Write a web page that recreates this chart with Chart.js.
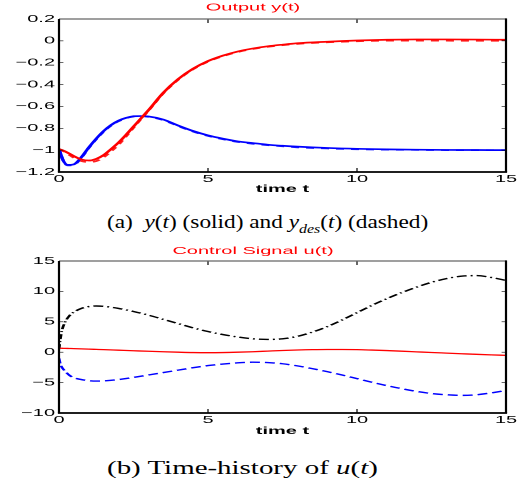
<!DOCTYPE html>
<html>
<head>
<meta charset="utf-8">
<script src="https://cdn.jsdelivr.net/npm/chart.js@4.4.1/dist/chart.umd.min.js"></script>
<style>
  html, body { margin: 0; padding: 0; background: #fff; }
  body { width: 524px; height: 481px; position: relative; overflow: hidden; }
  /* the figure in the reference is stretched sideways, so are we */
  .plot { position: absolute; left: 0; transform-origin: 0 0; transform: scaleX(2); }
  .plot canvas { display: block; }
  .cap { position: absolute; left: 107px; font-family: "Liberation Serif", "Times New Roman", serif;
         font-size: 19px; line-height: 22px; white-space: nowrap; transform-origin: 0 50%; }
  .cap sub { font-size: 13px; line-height: 0; }
</style>
</head>
<body>
<div class="plot" style="top:0px"><canvas id="outChart" width="262" height="200"></canvas></div>
<div class="cap" id="capA" style="top:211px">(a)&nbsp; <i>y</i>(<i>t</i>) (solid) and <i>y<sub>des</sub></i>(<i>t</i>) (dashed)</div>
<div class="plot" style="top:240px"><canvas id="ctrlChart" width="262" height="200"></canvas></div>
<div class="cap" id="capB" style="top:457px">(b) Time-history of <i>u</i>(<i>t</i>)</div>

<script>
/* ---------- data ---------- */
const timeTicks = [0, 5, 10, 15];
const outTicks = [0.2, 0, -0.2, -0.4, -0.6, -0.8, -1, -1.2];
const ctrlTicks = [15, 10, 5, 0, -5, -10];

// (a) output y(t)
const tOut = [0, 0.15, 0.3, 0.5, 0.75, 1, 1.25, 1.5, 1.75, 2, 2.25, 2.5, 2.75, 3, 3.5, 4, 4.5, 5,
              5.5, 6, 6.5, 7, 7.5, 8, 9, 10, 11, 12, 13, 14, 15];
const yRed = [-0.99, -1.005, -1.025, -1.055, -1.085, -1.095, -1.08, -1.045, -0.99, -0.93, -0.86, -0.785,
              -0.71, -0.635, -0.475, -0.35, -0.255, -0.185, -0.135, -0.097, -0.07, -0.05, -0.035, -0.022,
              -0.008, 0.003, 0.01, 0.013, 0.013, 0.012, 0.01];
const yRedDes = [-0.99, -1.01, -1.035, -1.07, -1.1, -1.11, -1.1, -1.065, -1.01, -0.95, -0.875, -0.795,
                 -0.715, -0.64, -0.48, -0.355, -0.26, -0.19, -0.14, -0.102, -0.075, -0.055, -0.04, -0.028,
                 -0.014, -0.004, 0.001, 0.002, 0.001, 0, 0];
const yBlue = [-0.99, -1.1, -1.135, -1.13, -1.065, -0.975, -0.895, -0.825, -0.77, -0.73, -0.705, -0.69,
               -0.688, -0.692, -0.72, -0.775, -0.825, -0.865, -0.895, -0.92, -0.935, -0.95, -0.96, -0.968,
               -0.98, -0.988, -0.993, -0.996, -0.998, -0.999, -1];
const yBlueDes = [-0.99, -1.1, -1.14, -1.135, -1.07, -0.98, -0.9, -0.83, -0.775, -0.735, -0.708, -0.693,
                  -0.69, -0.695, -0.725, -0.78, -0.83, -0.87, -0.9, -0.925, -0.942, -0.955, -0.965, -0.975,
                  -0.985, -0.992, -0.996, -0.998, -1, -1, -1];

// (b) control signal u(t)
const tCtrl = [0, 0.05, 0.1, 0.2, 0.35, 0.5, 0.75, 1, 1.25, 1.5, 2, 2.5, 3, 3.5, 4, 4.5, 5, 5.5, 6, 6.5,
               7, 7.5, 8, 8.5, 9, 9.5, 10, 10.5, 11, 11.5, 12, 12.5, 13, 13.5, 14, 14.5, 15];
const uRed = [0.65, 0.65, 0.64, 0.63, 0.61, 0.59, 0.55, 0.5, 0.46, 0.42, 0.33, 0.24, 0.15, 0.07, 0, -0.06,
              -0.08, -0.06, 0, 0.08, 0.18, 0.28, 0.36, 0.42, 0.45, 0.45, 0.42, 0.35, 0.27, 0.17, 0.06, -0.05,
              -0.15, -0.25, -0.35, -0.44, -0.52];
const uBlue = [-1, -2, -2.5, -3.1, -3.8, -4.2, -4.5, -4.68, -4.75, -4.72, -4.5, -4.15, -3.75, -3.35, -2.95,
               -2.55, -2.2, -1.95, -1.75, -1.65, -1.7, -1.9, -2.25, -2.7, -3.2, -3.75, -4.35, -4.95, -5.5,
               -6, -6.45, -6.8, -7, -7.1, -7, -6.7, -6.3];
const uBlack = [0.5, 2.3, 3.6, 4.9, 6, 6.6, 7.2, 7.5, 7.6, 7.55, 7.2, 6.7, 6.1, 5.4, 4.7, 4, 3.4, 2.9, 2.5,
                2.2, 2.1, 2.2, 2.6, 3.3, 4.2, 5.3, 6.5, 7.7, 8.8, 9.8, 10.7, 11.5, 12.1, 12.5, 12.6, 12.3, 11.8];

/* ---------- helpers ---------- */
const FONT = "'Liberation Sans', Arial, Helvetica, sans-serif";
const pts = (ts, vs) => ts.map((t, i) => ({ x: t, y: vs[i] }));
const fmt = v => String(parseFloat(v.toFixed(2))).replace('-', '\u2212');

// matlab style box: thin grey top, black sides, ticks pointing inward
const boxFrame = {
  id: 'boxFrame',
  afterDatasetsDraw(chart) {
    const { ctx, chartArea: a, scales } = chart;
    const seg = (x1, y1, x2, y2) => { ctx.beginPath(); ctx.moveTo(x1, y1); ctx.lineTo(x2, y2); ctx.stroke(); };
    ctx.save();
    ctx.strokeStyle = '#000';
    ctx.lineWidth = 0.6;
    scales.x.ticks.forEach(t => {
      const p = scales.x.getPixelForValue(t.value);
      seg(p, a.bottom, p, a.bottom - 4);
      seg(p, a.top, p, a.top + 4);
    });
    scales.y.ticks.forEach(t => {
      const p = scales.y.getPixelForValue(t.value);
      seg(a.left, p, a.left + 2.2, p);
      seg(a.right, p, a.right - 2.2, p);
    });
    ctx.strokeStyle = '#666';
    ctx.lineWidth = 1.2;
    seg(a.left, a.top, a.right, a.top);
    ctx.strokeStyle = '#000';
    ctx.lineWidth = 1.1;
    seg(a.left, a.top, a.left, a.bottom);
    seg(a.right, a.top - 0.6, a.right, a.bottom);
    ctx.lineWidth = 1.8;
    seg(a.left - 0.55, a.bottom, a.right + 0.55, a.bottom);
    ctx.restore();
  }
};

function makeChart(id, datasets, o) {
  return new Chart(document.getElementById(id), {
    type: 'line',
    data: { datasets },
    options: {
      responsive: false,
      animation: false,
      devicePixelRatio: 2,
      layout: { padding: { left: 0, right: 9, top: 0, bottom: 0 } },
      elements: {
        point: { radius: 0 },
        line: { cubicInterpolationMode: 'monotone', fill: false }
      },
      plugins: {
        legend: { display: false },
        tooltip: { enabled: false },
        title: {
          display: true, text: o.title, color: '#ff0000',
          font: { family: FONT, size: 10, weight: 'normal', lineHeight: 1 },
          padding: o.titlePad
        }
      },
      scales: {
        x: {
          type: 'linear', min: 0, max: 15,
          afterBuildTicks: s => { s.ticks = timeTicks.map(v => ({ value: v })); },
          afterFit: s => { s.height = o.xHeight; },
          grid: { display: false, drawTicks: false },
          border: { display: false },
          ticks: { color: '#000', padding: 1, maxRotation: 0, font: { family: FONT, size: 10 } },
          title: {
            display: true, text: 'time t', color: '#000',
            font: { family: FONT, size: 10, weight: 'bold', lineHeight: 1 },
            padding: { top: 0, bottom: o.xTitlePad }
          }
        },
        y: {
          type: 'linear', min: o.yMin, max: o.yMax,
          afterBuildTicks: s => { s.ticks = o.yTicks.map(v => ({ value: v })); },
          afterFit: s => { s.width = 29.5; },
          grid: { display: false, drawTicks: false },
          border: { display: false },
          ticks: { color: '#000', padding: 2, callback: v => fmt(v), font: { family: FONT, size: 10 } }
        }
      }
    },
    plugins: [boxFrame]
  });
}

/* ---------- (a) output ---------- */
makeChart('outChart', [
  { data: pts(tOut, yRed), borderColor: '#ff0000', borderWidth: 1.7 },
  { data: pts(tOut, yBlue), borderColor: '#0000ff', borderWidth: 1.7 },
  { data: pts(tOut, yRedDes), borderColor: '#ff2020', borderWidth: 1.6, borderDash: [4, 3.5] },
  { data: pts(tOut, yBlueDes), borderColor: '#2020ff', borderWidth: 1.6, borderDash: [4, 3.5] }
], {
  title: 'Output y(t)', titlePad: { top: 2.5, bottom: 6.5 },
  xHeight: 28, xTitlePad: 6,
  yMin: -1.2, yMax: 0.2, yTicks: outTicks
});

/* ---------- (b) control ---------- */
makeChart('ctrlChart', [
  { data: pts(tCtrl, uRed), borderColor: '#ff0000', borderWidth: 1.3 },
  { data: pts(tCtrl, uBlue), borderColor: '#0000ff', borderWidth: 1.4, borderDash: [5, 2.5] },
  { data: pts(tCtrl, uBlack), borderColor: '#000000', borderWidth: 1.4, borderDash: [5, 2, 1, 2] }
], {
  title: 'Control Signal u(t)', titlePad: { top: 6, bottom: 5 },
  xHeight: 27, xTitlePad: 4,
  yMin: -10, yMax: 15, yTicks: ctrlTicks
});

/* captions are stretched to the same width as in the picture */
function fitCaption(id, width) {
  const el = document.getElementById(id);
  el.style.transform = 'scaleX(' + (width / el.offsetWidth) + ')';
}
fitCaption('capA', 321);
fitCaption('capB', 271);
</script>
</body>
</html>
